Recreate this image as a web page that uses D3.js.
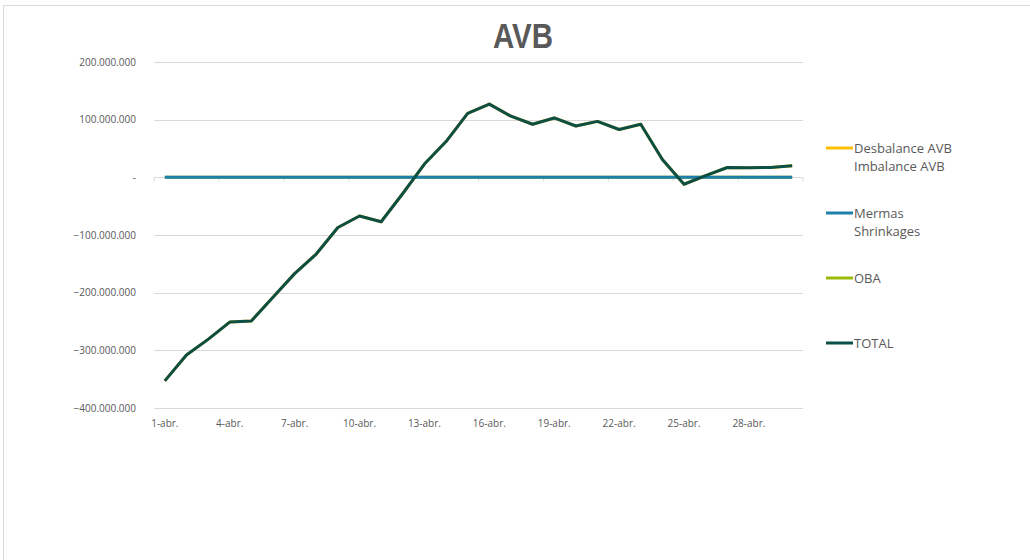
<!DOCTYPE html>
<head>
<meta charset="utf-8">
<style>
body { margin: 0; background: #fff; }
text { font-family: "Open Sans", "Liberation Sans", sans-serif; fill: #595959; }
.grid line { stroke: #d9d9d9; stroke-width: 1px; }
.line { fill: none; stroke-width: 3px; stroke-linejoin: round; stroke-linecap: butt; }
</style>
<script src="https://cdn.jsdelivr.net/npm/d3@7"></script>
</head>
<body>
<svg class="chart" width="1030" height="560"></svg>
<script>

// Days of April, labels shown every 3 days
var days = d3.range(1, 31).map(function(d) { return d + "-abr."; });

// Series values
var total = [-353e6, -308e6, -281e6, -251e6, -249e6, -208e6, -167e6, -133e6, -87e6, -67e6,
             -77e6, -28e6, 23e6, 62e6, 111e6, 127e6, 106e6, 92e6, 103e6, 89e6,
             97e6, 83e6, 92e6, 31e6, -12e6, 3e6, 17e6, 16.6e6, 17e6, 20e6];
var desbalance = [-353e6, -308e6, -281e6, -251e6, -249e6, -208e6, -167e6, -133e6, -87e6, -67e6,
             -77e6, -28e6, 23e6, 62e6, 111e6, 127e6, 106e6, 92e6, 103e6, 89e6,
             97e6, 83e6, 92e6, 31e6, -12e6, 3e6, 17e6, 16.6e6, 17e6, 20e6];
var mermas = d3.range(30).map(function() { return 0; });
var oba = d3.range(30).map(function() { return 0; });

var yTicks = [-400e6, -300e6, -200e6, -100e6, 0, 100e6, 200e6];

// Drawing order; the legend keeps its own order
var series = [
  {name: ["Desbalance AVB", "Imbalance AVB"], values: desbalance, color: "#ffc000", order: 0},
  {name: ["OBA"], values: oba, color: "#9bbb0a", order: 2},
  {name: ["Mermas", "Shrinkages"], values: mermas, color: "#1f7fab", order: 1},
  {name: ["TOTAL"], values: total, color: "#0b4f47", order: 3}
];

var svg = d3.select(".chart");

// chart frame
svg.append("rect")
  .attr("x", 3.5).attr("y", 5.5).attr("width", 1040).attr("height", 570)
  .attr("fill", "none").attr("stroke", "#d9d9d9");

var margin = {left: 154, right: 803, top: 62, bottom: 408};

var x = d3.scaleBand().domain(days).range([margin.left, margin.right]);
var y = d3.scaleLinear().domain([-400e6, 200e6]).range([margin.bottom, margin.top]);

var loc = d3.formatLocale({decimal: ",", thousands: ".", grouping: [3], currency: ["", ""]});
var fmt = loc.format(",.0f");

// title (condensed look)
svg.append("text")
  .attr("x", 523).attr("y", 48)
  .attr("text-anchor", "middle")
  .attr("textLength", 60)
  .attr("lengthAdjust", "spacingAndGlyphs")
  .style("font-family", "'Liberation Sans', sans-serif")
  .style("font-weight", "bold")
  .style("font-size", "35px")
  .text("AVB");

// gridlines
svg.append("g").attr("class", "grid")
  .selectAll("line").data(yTicks.filter(function(v) { return v !== 0; })).enter()
  .append("line")
  .attr("x1", margin.left).attr("x2", margin.right)
  .attr("y1", function(v) { return Math.round(y(v)) + 0.5; })
  .attr("y2", function(v) { return Math.round(y(v)) + 0.5; });

// y labels
var yAxis = d3.axisLeft(y).tickValues(yTicks)
  .tickSize(0).tickPadding(18)
  .tickFormat(function(v) { return v === 0 ? "-" : fmt(v); });
var gy = svg.append("g").attr("transform", "translate(" + margin.left + ",0)").call(yAxis);
gy.select(".domain").remove();
gy.selectAll("text").style("font-size", "10px").style("fill", "#595959");

// x labels under the plot
var xAxis = d3.axisBottom(x).tickSize(0).tickFormat(function(d, i) { return i % 3 === 0 ? d : ""; });
var gx = svg.append("g").attr("transform", "translate(0,408)").call(xAxis);
gx.select(".domain").remove();
gx.selectAll("text").attr("dy", "1em").attr("y", 9).style("font-size", "10px").style("fill", "#595959");

// zero axis line and ticks
var gz = svg.append("g").attr("transform", "translate(0," + (Math.round(y(0)) + 0.5) + ")");
gz.append("line").attr("x1", margin.left).attr("x2", margin.right).attr("stroke", "#d9d9d9");
gz.selectAll(".tk").data(d3.range(0, 31, 3)).enter().append("line")
  .attr("x1", function(i) { return margin.left + i * x.step(); })
  .attr("x2", function(i) { return margin.left + i * x.step(); })
  .attr("y1", 0).attr("y2", 4).attr("stroke", "#d9d9d9");

// the lines
var line = d3.line()
  .x(function(d, i) { return x(days[i]) + x.bandwidth() / 2; })
  .y(function(d) { return y(d); });

series.forEach(function(s) {
  svg.append("path")
    .datum(s.values)
    .attr("class", "line")
    .attr("stroke", s.color)
    .attr("d", line);
});

// legend
var legendY = [148, 213, 278, 343];
var legendSeries = series.slice().sort(function(a, b) { return a.order - b.order; });
legendSeries.forEach(function(s, k) {
  var g = svg.append("g").attr("transform", "translate(826," + legendY[k] + ")");
  g.append("line").attr("x1", 0).attr("x2", 27).attr("y1", 0).attr("y2", 0)
    .attr("stroke", s.color).attr("stroke-width", 3);
  s.name.forEach(function(t, j) {
    g.append("text").attr("x", 28).attr("y", j * 18).attr("dy", "0.35em")
      .style("font-size", "13px").text(t);
  });
});

</script>
</body>
